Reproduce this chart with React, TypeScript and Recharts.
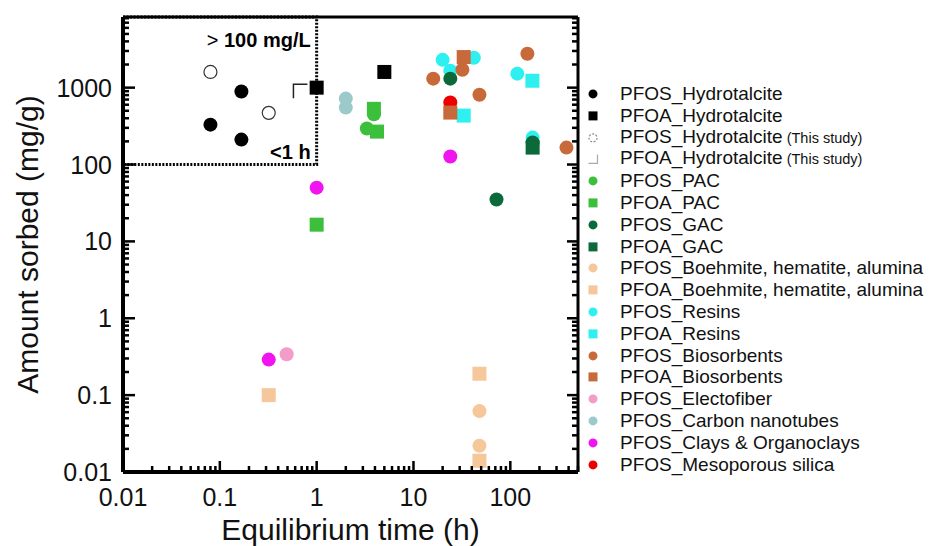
import { ScatterChart, Scatter, XAxis, YAxis, ReferenceArea } from "recharts"

const FONT = "Arial, 'Liberation Sans', sans-serif"

// axis ticks (log scales)
const xMajor = [0.01, 0.1, 1, 10, 100]
const xTicks = [
  0.01, 0.02, 0.03, 0.04, 0.05, 0.06, 0.07, 0.08, 0.09,
  0.1, 0.2, 0.3, 0.4, 0.5, 0.6, 0.7, 0.8, 0.9,
  1, 2, 3, 4, 5, 6, 7, 8, 9,
  10, 20, 30, 40, 50, 60, 70, 80, 90,
  100, 200, 300, 400, 500,
]
const yMajor = [0.01, 0.1, 1, 10, 100, 1000]
const yTicks = [
  0.01, 0.02, 0.03, 0.04, 0.05, 0.06, 0.07, 0.08, 0.09,
  0.1, 0.2, 0.3, 0.4, 0.5, 0.6, 0.7, 0.8, 0.9,
  1, 2, 3, 4, 5, 6, 7, 8, 9,
  10, 20, 30, 40, 50, 60, 70, 80, 90,
  100, 200, 300, 400, 500, 600, 700, 800, 900,
  1000, 2000, 3000, 4000, 5000, 6000, 7000, 8000,
]
const xDomain = [0.01, 500]
const yDomain = [0.01, 8300]

// data: x = equilibrium time (h), y = amount sorbed (mg/g)
const pfosHydrotalcite = [{ x: 0.08, y: 330 }, { x: 0.167, y: 890 }, { x: 0.167, y: 211 }]
const pfoaHydrotalcite = [{ x: 1, y: 1000 }, { x: 5, y: 1600 }]
const pfosHtStudy = [{ x: 0.08, y: 1600 }, { x: 0.32, y: 470 }]
const pfoaHtStudy = [{ x: 0.68, y: 900 }]
const pfosPac = [{ x: 3.9, y: 450 }, { x: 3.3, y: 294 }]
const pfoaPac = [{ x: 1, y: 16.5 }, { x: 3.9, y: 530 }, { x: 4.2, y: 268 }]
const pfosGac = [{ x: 24, y: 1310 }, { x: 72, y: 35 }, { x: 170, y: 193 }]
const pfoaGac = [{ x: 170, y: 166 }]
const pfosBoehmite = [{ x: 48, y: 0.062 }, { x: 48, y: 0.022 }]
const pfoaBoehmite = [{ x: 0.32, y: 0.1 }, { x: 48, y: 0.19 }, { x: 48, y: 0.014 }]
const pfosResins = [{ x: 20, y: 2300 }, { x: 42, y: 2450 }, { x: 24, y: 1660 }, { x: 118, y: 1520 }, { x: 170, y: 224 }]
const pfoaResins = [{ x: 33, y: 433 }, { x: 169, y: 1230 }]
const pfosBio = [{ x: 32, y: 1710 }, { x: 16, y: 1310 }, { x: 48, y: 810 }, { x: 150, y: 2760 }, { x: 380, y: 166 }]
const pfoaBio = [{ x: 33, y: 2500 }, { x: 24, y: 474 }]
const pfosElecto = [{ x: 0.49, y: 0.34 }]
const pfosCnt = [{ x: 2, y: 720 }, { x: 2, y: 550 }]
const pfosClays = [{ x: 1, y: 50 }, { x: 0.32, y: 0.29 }, { x: 24, y: 127 }]
const pfosMeso = [{ x: 24, y: 640 }]

const C = {
  black: "#000000",
  pac: "#3cc03c",
  gac: "#0c6a3a",
  boeh: "#f6c79a",
  resin: "#2ef0f0",
  bio: "#c8693a",
  electo: "#f39bc9",
  cnt: "#9ccaca",
  clay: "#f014f0",
  meso: "#ee0000",
}

type Kind = "circle" | "square" | "open" | "bracket" | "bracketLegend"

// draw order (back to front)
const series: { name: string; data: { x: number; y: number }[]; kind: Kind; color: string }[] = [
  { name: "PFOS_Resins", data: pfosResins, kind: "circle", color: C.resin },
  { name: "PFOA_Resins", data: pfoaResins, kind: "square", color: C.resin },
  { name: "PFOS_Mesoporous silica", data: pfosMeso, kind: "circle", color: C.meso },
  { name: "PFOS_Clays & Organoclays", data: pfosClays, kind: "circle", color: C.clay },
  { name: "PFOS_Carbon nanotubes", data: pfosCnt, kind: "circle", color: C.cnt },
  { name: "PFOS_Electofiber", data: pfosElecto, kind: "circle", color: C.electo },
  { name: "PFOS_PAC", data: pfosPac, kind: "circle", color: C.pac },
  { name: "PFOA_PAC", data: pfoaPac, kind: "square", color: C.pac },
  { name: "PFOS_GAC", data: pfosGac, kind: "circle", color: C.gac },
  { name: "PFOA_GAC", data: pfoaGac, kind: "square", color: C.gac },
  { name: "PFOS_Boehmite", data: pfosBoehmite, kind: "circle", color: C.boeh },
  { name: "PFOA_Boehmite", data: pfoaBoehmite, kind: "square", color: C.boeh },
  { name: "PFOS_Biosorbents", data: pfosBio, kind: "circle", color: C.bio },
  { name: "PFOA_Biosorbents", data: pfoaBio, kind: "square", color: C.bio },
  { name: "PFOS_Hydrotalcite (This study)", data: pfosHtStudy, kind: "open", color: "#333" },
  { name: "PFOA_Hydrotalcite (This study)", data: pfoaHtStudy, kind: "bracket", color: "#222" },
  { name: "PFOS_Hydrotalcite", data: pfosHydrotalcite, kind: "circle", color: C.black },
  { name: "PFOA_Hydrotalcite", data: pfoaHydrotalcite, kind: "square", color: C.black },
]

const legendItems: { label: string; note?: string; kind: Kind; color: string }[] = [
  { label: "PFOS_Hydrotalcite", kind: "circle", color: C.black },
  { label: "PFOA_Hydrotalcite", kind: "square", color: C.black },
  { label: "PFOS_Hydrotalcite", note: "(This study)", kind: "open", color: "#888" },
  { label: "PFOA_Hydrotalcite", note: "(This study)", kind: "bracketLegend", color: "#aaa" },
  { label: "PFOS_PAC", kind: "circle", color: C.pac },
  { label: "PFOA_PAC", kind: "square", color: C.pac },
  { label: "PFOS_GAC", kind: "circle", color: C.gac },
  { label: "PFOA_GAC", kind: "square", color: C.gac },
  { label: "PFOS_Boehmite, hematite, alumina", kind: "circle", color: C.boeh },
  { label: "PFOA_Boehmite, hematite, alumina", kind: "square", color: C.boeh },
  { label: "PFOS_Resins", kind: "circle", color: C.resin },
  { label: "PFOA_Resins", kind: "square", color: C.resin },
  { label: "PFOS_Biosorbents", kind: "circle", color: C.bio },
  { label: "PFOA_Biosorbents", kind: "square", color: C.bio },
  { label: "PFOS_Electofiber", kind: "circle", color: C.electo },
  { label: "PFOS_Carbon nanotubes", kind: "circle", color: C.cnt },
  { label: "PFOS_Clays & Organoclays", kind: "circle", color: C.clay },
  { label: "PFOS_Mesoporous silica", kind: "circle", color: C.meso },
]

function marker(kind: Kind, color: string, cx: number, cy: number, s: number) {
  const h = s / 2
  if (kind === "circle") return <circle cx={cx} cy={cy} r={h} fill={color} />
  if (kind === "square") return <rect x={cx - h} y={cy - h} width={s} height={s} fill={color} />
  if (kind === "open")
    return <circle cx={cx} cy={cy} r={h - 0.5} fill="none" stroke={color} strokeWidth={1.2} strokeDasharray={s < 12 ? "2 1.5" : undefined} />
  if (kind === "bracketLegend")
    return <path d={`M${cx - h},${cy + h} L${cx + h},${cy + h} L${cx + h},${cy - h}`} fill="none" stroke={color} strokeWidth={1.2} />
  return <path d={`M${cx - h},${cy + h} L${cx - h},${cy - h} L${cx + h},${cy - h}`} fill="none" stroke={color} strokeWidth={1.5} />
}

const shapeFor = (kind: Kind, color: string) => (p: any) => marker(kind, color, p.cx, p.cy, 14)

const tickStroke = { stroke: "#000", strokeWidth: 2.5 }

function BottomTick(p: any) {
  const v = p.payload.value
  const major = xMajor.includes(v)
  return (
    <g>
      <line x1={p.x} x2={p.x} y1={p.y} y2={p.y - (major ? 11 : 6)} {...tickStroke} />
      {major && (
        <text x={p.x} y={p.y + 34} textAnchor="middle" fontSize={25} fontFamily={FONT} fill="#111">
          {String(v)}
        </text>
      )}
    </g>
  )
}

function TopTick(p: any) {
  const major = xMajor.includes(p.payload.value)
  return <line x1={p.x} x2={p.x} y1={p.y} y2={p.y + (major ? 11 : 6)} {...tickStroke} />
}

function LeftTick(p: any) {
  const v = p.payload.value
  const major = yMajor.includes(v)
  return (
    <g>
      <line x1={p.x} x2={p.x + (major ? 12 : 6)} y1={p.y} y2={p.y} {...tickStroke} />
      {major && (
        <text x={p.x - 11} y={p.y + 9} textAnchor="end" fontSize={25} fontFamily={FONT} fill="#111">
          {String(v)}
        </text>
      )}
    </g>
  )
}

function RightTick(p: any) {
  const major = yMajor.includes(p.payload.value)
  return <line x1={p.x} x2={p.x - (major ? 11 : 6)} y1={p.y} y2={p.y} {...tickStroke} />
}

function InsetText(p: any) {
  const vb = p.viewBox
  const right = vb.x + vb.width - 6
  return (
    <g fontFamily={FONT} fill="#000">
      <text x={right} y={vb.y + 30} textAnchor="end" fontSize={20}>
        <tspan fontWeight="normal">{">"} </tspan>
        <tspan fontWeight="bold">100 mg/L</tspan>
      </text>
      <text x={right} y={vb.y + vb.height - 6} textAnchor="end" fontSize={20} fontWeight="bold">
        {"<1 h"}
      </text>
    </g>
  )
}

function XTitle(p: any) {
  const vb = p.viewBox
  return (
    <text x={vb.x + vb.width / 2} y={vb.y + 68} textAnchor="middle" fontSize={30} fontFamily={FONT} fill="#111">
      Equilibrium time (h)
    </text>
  )
}

function YTitle(p: any) {
  const vb = p.viewBox
  const cx = 27
  const cy = vb.y + vb.height / 2
  return (
    <text x={cx} y={cy} transform={`rotate(-90, ${cx}, ${cy})`} textAnchor="middle" dominantBaseline="central" fontSize={30} fontFamily={FONT} fill="#111">
      Amount sorbed (mg/g)
    </text>
  )
}

function LegendBox() {
  const rowH = 21.8
  return (
    <div style={{ position: "absolute", left: 582, top: 94 - rowH / 2, fontFamily: FONT, color: "#111" }}>
      {legendItems.map((it, i) => (
        <div key={i} style={{ height: rowH, display: "flex", alignItems: "center", whiteSpace: "nowrap" }}>
          <svg width={22} height={rowH} style={{ flex: "none" }}>
            {marker(it.kind, it.color, 11, rowH / 2, 9)}
          </svg>
          <span style={{ marginLeft: 16, fontSize: 19, lineHeight: `${rowH}px` }}>
            {it.label}
            {it.note && <span style={{ fontSize: 14.5 }}> {it.note}</span>}
          </span>
        </div>
      ))}
    </div>
  )
}

export default function App() {
  return (
    <div style={{ position: "relative", width: 932, height: 546, background: "#fff", fontFamily: FONT }}>
      <style>{"body{margin:0}"}</style>
      <ScatterChart width={932} height={546} margin={{ top: 0, right: 0, bottom: 0, left: 0 }}>
        <XAxis
          xAxisId={0}
          type="number"
          dataKey="x"
          scale="log"
          domain={xDomain}
          allowDataOverflow
          ticks={xTicks}
          interval={0}
          tickSize={0}
          tickMargin={0}
          height={74}
          axisLine={{ stroke: "#000", strokeWidth: 4 }}
          tickLine={false}
          tick={(p: any) => <BottomTick {...p} />}
          label={(p: any) => <XTitle {...p} />}
        />
        <XAxis
          xAxisId="top"
          orientation="top"
          type="number"
          scale="log"
          domain={xDomain}
          allowDataOverflow
          ticks={xTicks}
          interval={0}
          tickSize={0}
          tickMargin={0}
          height={17}
          axisLine={{ stroke: "#000", strokeWidth: 3 }}
          tickLine={false}
          tick={(p: any) => <TopTick {...p} />}
        />
        <YAxis
          yAxisId={0}
          type="number"
          dataKey="y"
          scale="log"
          domain={yDomain}
          allowDataOverflow
          ticks={yTicks}
          interval={0}
          tickSize={0}
          tickMargin={0}
          width={123}
          axisLine={{ stroke: "#000", strokeWidth: 4 }}
          tickLine={false}
          tick={(p: any) => <LeftTick {...p} />}
          label={(p: any) => <YTitle {...p} />}
        />
        <YAxis
          yAxisId="right"
          orientation="right"
          type="number"
          scale="log"
          domain={yDomain}
          allowDataOverflow
          ticks={yTicks}
          interval={0}
          tickSize={0}
          tickMargin={0}
          width={354}
          axisLine={{ stroke: "#000", strokeWidth: 3 }}
          tickLine={false}
          tick={(p: any) => <RightTick {...p} />}
        />
        <ReferenceArea
          x1={0.01}
          x2={1}
          y1={100}
          y2={8300}
          fill="none"
          stroke="#000"
          strokeWidth={3}
          strokeDasharray="2 1.5"
          label={(p: any) => <InsetText {...p} />}
        />
        {series.map((s) => (
          <Scatter key={s.name} name={s.name} data={s.data} shape={shapeFor(s.kind, s.color)} isAnimationActive={false} />
        ))}
      </ScatterChart>
      <LegendBox />
    </div>
  )
}
